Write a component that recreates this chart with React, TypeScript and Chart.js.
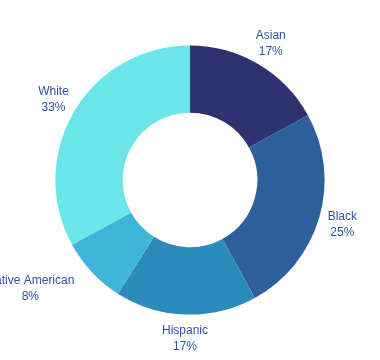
import React, { useEffect, useRef } from "react";
import { Chart, registerables } from "chart.js";

Chart.register(...registerables);

const categories = ["Asian", "Black", "Hispanic", "Native American", "White"];
const values = [17, 25, 17, 8, 33];
const percentLabels = ["17%", "25%", "17%", "8%", "33%"];
const colors = ["#2e3370", "#2c5f9c", "#2b8bbd", "#3fb6d7", "#6ae5e8"];

const FONT = "12px 'Liberation Sans', Arial, sans-serif";
const TEXT_COLOR = "#30519e";

const outsideLabels = {
  id: "outsideLabels",
  afterDatasetsDraw(chart: any) {
    const ctx = chart.ctx;
    const meta = chart.getDatasetMeta(0);
    ctx.save();
    ctx.font = FONT;
    ctx.fillStyle = TEXT_COLOR;
    ctx.textBaseline = "middle";
    ctx.textAlign = "center";
    meta.data.forEach((arc: any, i: number) => {
      const p = arc.getProps(["startAngle", "endAngle", "x", "y", "outerRadius"], true);
      const mid = (p.startAngle + p.endAngle) / 2;
      const dist = p.outerRadius + 24;
      let cx = p.x + Math.cos(mid) * dist;
      const cy = p.y + Math.sin(mid) * dist;
      const lines = [categories[i], percentLabels[i]];
      const w = Math.max(...lines.map((l) => ctx.measureText(l).width));
      const hw = w / 2;
      const hh = 12;
      const nx = Math.max(cx - hw, Math.min(p.x, cx + hw));
      const ny = Math.max(cy - hh, Math.min(p.y, cy + hh));
      const d = Math.hypot(nx - p.x, ny - p.y);
      if (d < p.outerRadius) {
        if (Math.cos(mid) < 0) cx = cx - hw;
        else cx = cx + hw;
      }
      ctx.fillText(lines[0], cx, cy - 8);
      ctx.fillText(lines[1], cx, cy + 8);
    });
    ctx.restore();
  },
};

export default function App() {
  const ref = useRef<HTMLCanvasElement | null>(null);
  useEffect(() => {
    if (!ref.current) return;
    const chart = new Chart(ref.current, {
      type: "doughnut",
      data: {
        labels: categories,
        datasets: [
          {
            data: values,
            backgroundColor: colors,
            borderWidth: 0,
          },
        ],
      },
      options: {
        animation: false,
        responsive: true,
        maintainAspectRatio: false,
        cutout: "50%",
        layout: { padding: 45.4 },
        plugins: {
          legend: { display: false },
          tooltip: { enabled: false },
        },
      },
      plugins: [outsideLabels],
    });
    return () => chart.destroy();
  }, []);
  return (
    <div style={{ position: "fixed", left: 0, top: 0, width: 380, height: 360 }}>
      <canvas ref={ref} />
    </div>
  );
}
